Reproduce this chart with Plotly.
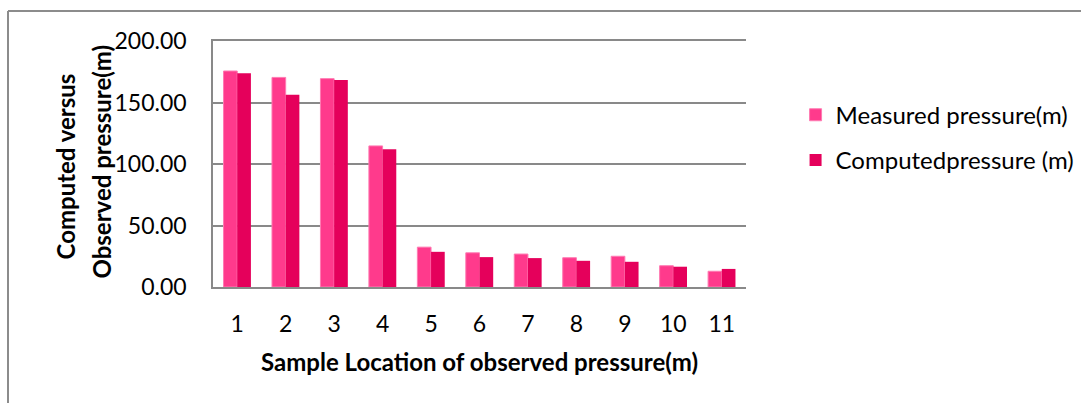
import plotly.graph_objects as go

# Sample locations and pressures (m)
locations = ["1", "2", "3", "4", "5", "6", "7", "8", "9", "10", "11"]
measured = [175.6, 170.4, 169.4, 114.7, 32.4, 27.8, 26.8, 23.8, 25.0, 17.3, 12.8]
computed = [173.7, 156.4, 168.3, 112.0, 28.6, 24.3, 23.5, 21.3, 20.5, 16.5, 14.7]

y_ticks = [0, 50, 100, 150, 200]
y_title_lines = ["Computed versus", "Observed pressure(m)"]

FONT = "Lato"
GRID = "#898989"
PLOT_L, PLOT_W = 213, 533

fig = go.Figure()
fig.add_trace(go.Bar(
    x=locations, y=measured, name="Measured pressure(m)",
    marker=dict(color="#FF3A8C", line=dict(color="#FF7AB2", width=1)),
    legendgroup="a",
))
fig.add_trace(go.Bar(
    x=locations, y=computed, name="Computedpressure (m)",
    marker=dict(color="#E5005B", line=dict(width=0)),
    legendgroup="b",
))

fig.update_layout(
    width=1081, height=403,
    margin=dict(l=PLOT_L, r=1081 - PLOT_L - PLOT_W, t=41, b=116,
                autoexpand=False),
    paper_bgcolor="white", plot_bgcolor="white",
    barmode="group", bargap=0.435, bargroupgap=0,
    font=dict(family=FONT, size=23, color="#000000"),
    legend=dict(
        x=1.093, xanchor="left", y=0.79, yanchor="top",
        font=dict(family=FONT, size=24, color="#000000"),
        tracegroupgap=11, traceorder="grouped",
        bgcolor="rgba(0,0,0,0)",
    ),
    xaxis=dict(
        showline=True, mirror=True, linecolor=GRID, linewidth=1.5,
        showgrid=False, ticks="", ticklabelstandoff=16,
        tickfont=dict(family=FONT, size=23),
        title=dict(text="<b>Sample Location of observed pressure(m)</b>",
                   font=dict(family=FONT, size=24), standoff=18),
    ),
    yaxis=dict(
        range=[0, 200], tickvals=y_ticks, tickformat=".2f",
        showline=True, linecolor=GRID, linewidth=1.5,
        showgrid=True, gridcolor=GRID, gridwidth=1.5,
        zeroline=False, ticks="", ticklabelstandoff=20,
        tickfont=dict(family=FONT, size=23),
    ),
)

# Two-line vertical axis title
for text, px, yc in zip(y_title_lines, [65, 102], [0.49, 0.51]):
    fig.add_annotation(
        text=f"<b>{text}</b>", textangle=-90,
        xref="paper", yref="paper",
        x=(px - PLOT_L) / PLOT_W, y=yc,
        xanchor="center", yanchor="middle", showarrow=False,
        font=dict(family=FONT, size=24, color="#000000"),
    )

# Chart-area frame: top and left edges
frame = dict(color="#8C8C8C", width=2)
fig.add_shape(type="line", xref="paper", yref="paper",
              x0=(8 - PLOT_L) / PLOT_W, x1=(1081 - PLOT_L) / PLOT_W,
              y0=1 + 30 / 246, y1=1 + 30 / 246, line=frame)
fig.add_shape(type="line", xref="paper", yref="paper",
              x0=(8 - PLOT_L) / PLOT_W, x1=(8 - PLOT_L) / PLOT_W,
              y0=1 + 30 / 246, y1=-1.0, line=frame)

fig.write_html("out.html")
